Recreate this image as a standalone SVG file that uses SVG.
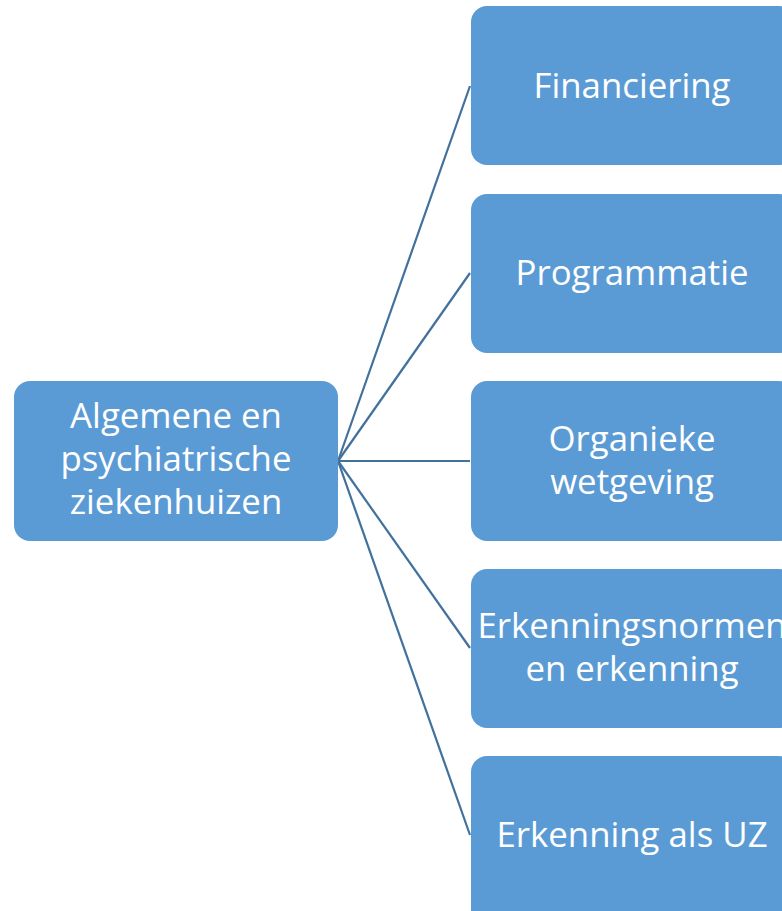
<svg xmlns="http://www.w3.org/2000/svg" width="782" height="911" viewBox="0 0 782 911">
<style>
.box{fill:#5B9BD5;}
.t{font-family:"Open Sans","Noto Sans","Liberation Sans",sans-serif;font-size:34.8px;fill:#FFFFFF;text-anchor:middle;}
.c{stroke:#41719C;stroke-width:2.2;fill:none;}
</style>
<rect width="782" height="911" fill="#FFFFFF"/>
<g id="connectors">
<line class="c" x1="338" y1="461" x2="470" y2="86"/>
<line class="c" x1="338" y1="461" x2="470" y2="273"/>
<line class="c" x1="338" y1="461" x2="470" y2="461"/>
<line class="c" x1="338" y1="461" x2="470" y2="648"/>
<line class="c" x1="338" y1="461" x2="470" y2="835"/>
</g>
<g id="root">
<rect class="box" x="14" y="381" width="324" height="160" rx="16"/>
<text class="t" x="176" y="428">Algemene en</text>
<text class="t" x="176" y="471">psychiatrische</text>
<text class="t" x="176" y="514">ziekenhuizen</text>
</g>
<g id="financiering">
<rect class="box" x="471" y="6" width="324" height="159" rx="16"/>
<text class="t" x="632" y="98">Financiering</text>
</g>
<g id="programmatie">
<rect class="box" x="471" y="194" width="324" height="159" rx="16"/>
<text class="t" x="632" y="285">Programmatie</text>
</g>
<g id="organieke">
<rect class="box" x="471" y="381" width="324" height="160" rx="16"/>
<text class="t" x="632" y="451">Organieke</text>
<text class="t" x="632" y="494">wetgeving</text>
</g>
<g id="erkenningsnormen">
<rect class="box" x="471" y="569" width="324" height="159" rx="16"/>
<text class="t" x="632" y="638">Erkenningsnormen</text>
<text class="t" x="632" y="681">en erkenning</text>
</g>
<g id="uz">
<rect class="box" x="471" y="756" width="324" height="170" rx="16"/>
<text class="t" x="632" y="847">Erkenning als UZ</text>
</g>
</svg>
